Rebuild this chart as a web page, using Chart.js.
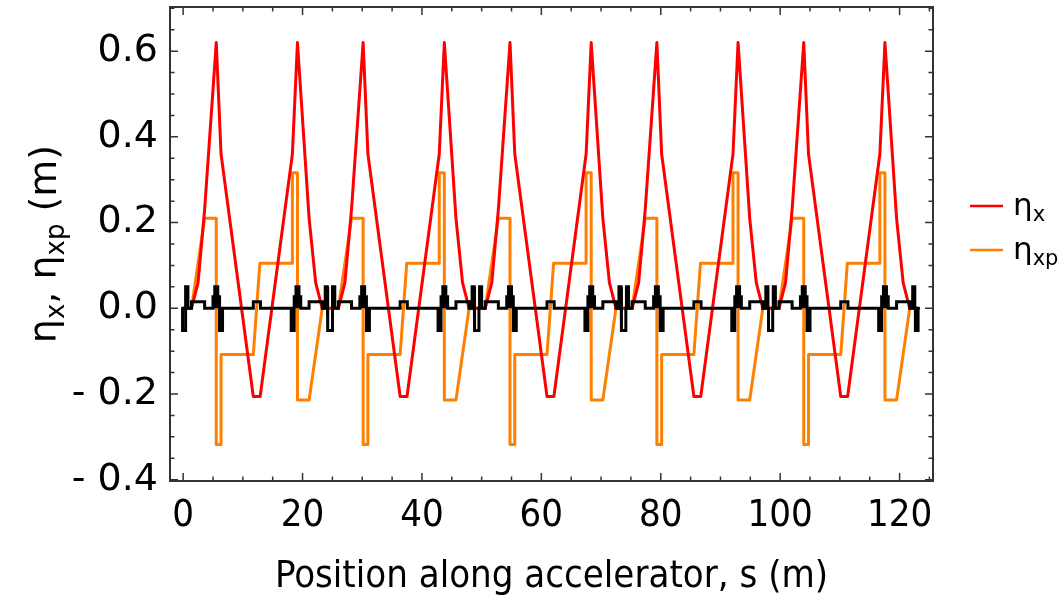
<!DOCTYPE html>
<html>
<head>
<meta charset="utf-8">
<title>Dispersion</title>
<script src="https://cdn.jsdelivr.net/npm/chart.js@4.4.1/dist/chart.umd.min.js"></script>
<style>
  html, body { margin: 0; padding: 0; background: #fff; }
</style>
</head>
<body>
<canvas id="dispersionChart" width="1064" height="600"></canvas>
<script>
// --- DATA ---

// eta_x : position s (m) and value (m)
const etaXS = [0, 1.4, 2.5, 3.6, 5.55, 6.35, 11.75, 12.9, 18.3, 19.15, 21.1, 22.2, 23.3,
    26.0, 27.1, 28.2, 30.15, 30.95, 36.35, 37.5, 42.9, 43.75, 45.7, 46.8, 47.9,
    50.6, 51.7, 52.8, 54.75, 55.55, 60.95, 62.1, 67.5, 68.35, 70.3, 71.4, 72.5,
    75.2, 76.3, 77.4, 79.35, 80.15, 85.55, 86.7, 92.1, 92.95, 94.9, 96.0, 97.1,
    99.8, 100.9, 102.0, 103.95, 104.75, 110.15, 111.3, 116.7, 117.55, 119.5, 120.6, 121.7, 123.0];
const etaXV = [0, 0, 0.06, 0.23, 0.62, 0.36, -0.206, -0.206, 0.36, 0.62, 0.21, 0.06, 0,
    0, 0.06, 0.23, 0.62, 0.36, -0.206, -0.206, 0.36, 0.62, 0.21, 0.06, 0,
    0, 0.06, 0.23, 0.62, 0.36, -0.206, -0.206, 0.36, 0.62, 0.21, 0.06, 0,
    0, 0.06, 0.23, 0.62, 0.36, -0.206, -0.206, 0.36, 0.62, 0.21, 0.06, 0,
    0, 0.06, 0.23, 0.62, 0.36, -0.206, -0.206, 0.36, 0.62, 0.21, 0.06, 0, 0];

// eta_xp : position s (m) and value
const etaXpS = [0, 1.4, 3.6, 5.55, 5.55, 6.35, 6.35, 11.75, 12.85, 18.3, 18.3, 19.15, 19.15, 21.1, 23.3,
    26.0, 28.2, 30.15, 30.15, 30.95, 30.95, 36.35, 37.45, 42.9, 42.9, 43.75, 43.75, 45.7, 47.9,
    50.6, 52.8, 54.75, 54.75, 55.55, 55.55, 60.95, 62.05, 67.5, 67.5, 68.35, 68.35, 70.3, 72.5,
    75.2, 77.4, 79.35, 79.35, 80.15, 80.15, 85.55, 86.65, 92.1, 92.1, 92.95, 92.95, 94.9, 97.1,
    99.8, 102.0, 103.95, 103.95, 104.75, 104.75, 110.15, 111.25, 116.7, 116.7, 117.55, 117.55, 119.5, 121.7, 123.0];
const etaXpV = [0, 0, 0.21, 0.21, -0.318, -0.318, -0.108, -0.108, 0.105, 0.105, 0.316, 0.316, -0.214, -0.214, 0,
    0, 0.21, 0.21, -0.318, -0.318, -0.108, -0.108, 0.105, 0.105, 0.316, 0.316, -0.214, -0.214, 0,
    0, 0.21, 0.21, -0.318, -0.318, -0.108, -0.108, 0.105, 0.105, 0.316, 0.316, -0.214, -0.214, 0,
    0, 0.21, 0.21, -0.318, -0.318, -0.108, -0.108, 0.105, 0.105, 0.316, 0.316, -0.214, -0.214, 0,
    0, 0.21, 0.21, -0.318, -0.318, -0.108, -0.108, 0.105, 0.105, 0.316, 0.316, -0.214, -0.214, 0, 0];

// lattice elements (black layout along the beamline): start, end, height
const latStart = [-0.1,
    0.45, 1.4, 5.0, 5.3, 5.8, 6.1, 11.75, 18.1, 18.6, 18.9, 19.4, 21.1, 23.8, 24.25,
    25.05, 26.0, 29.6, 29.9, 30.4, 30.7, 36.35, 42.7, 43.2, 43.5, 44.0, 45.7, 48.4, 48.85,
    49.65, 50.6, 54.2, 54.5, 55.0, 55.3, 60.95, 67.3, 67.8, 68.1, 68.6, 70.3, 73.0, 73.45,
    74.25, 75.2, 78.8, 79.1, 79.6, 79.9, 85.55, 91.9, 92.4, 92.7, 93.2, 94.9, 97.6, 98.05,
    98.85, 99.8, 103.4, 103.7, 104.2, 104.5, 110.15, 116.5, 117.0, 117.3, 117.8, 119.5, 122.2, 122.65];
const latEnd = [0.35,
    0.8, 3.6, 5.3, 5.8, 6.1, 6.6, 12.95, 18.6, 18.9, 19.4, 19.7, 23.3, 24.15, 24.95,
    25.4, 28.2, 29.9, 30.4, 30.7, 31.2, 37.55, 43.2, 43.5, 44.0, 44.3, 47.9, 48.75, 49.55,
    50.0, 52.8, 54.5, 55.0, 55.3, 55.8, 62.15, 67.8, 68.1, 68.6, 68.9, 72.5, 73.35, 74.15,
    74.6, 77.4, 79.1, 79.6, 79.9, 80.4, 86.75, 92.4, 92.7, 93.2, 93.5, 97.1, 97.95, 98.75,
    99.2, 102.0, 103.7, 104.2, 104.5, 105.0, 111.35, 117.0, 117.3, 117.8, 118.1, 121.7, 122.55, 123.1];
const latH = [-0.052,
    0.05, 0.015, 0.027, 0.05, 0.027, -0.052, 0.015, -0.052, 0.027, 0.05, 0.027, 0.015, 0.05, -0.052,
    0.05, 0.015, 0.027, 0.05, 0.027, -0.052, 0.015, -0.052, 0.027, 0.05, 0.027, 0.015, 0.05, -0.052,
    0.05, 0.015, 0.027, 0.05, 0.027, -0.052, 0.015, -0.052, 0.027, 0.05, 0.027, 0.015, 0.05, -0.052,
    0.05, 0.015, 0.027, 0.05, 0.027, -0.052, 0.015, -0.052, 0.027, 0.05, 0.027, 0.015, 0.05, -0.052,
    0.05, 0.015, 0.027, 0.05, 0.027, -0.052, 0.015, -0.052, 0.027, 0.05, 0.027, 0.015, 0.05, -0.052];
const latFrom = -0.3;
const latTo = 123.4;

// axes
const xTickVals = [0, 20, 40, 60, 80, 100, 120];
const yTickVals = [-0.4, -0.2, 0, 0.2, 0.4, 0.6];
const yTickLabels = ['- 0.4', '- 0.2', '0.0', '0.2', '0.4', '0.6'];
const xTitle = 'Position along accelerator, s (m)';

const FONT = "'DejaVu Sans', sans-serif";
const FONT_NARROW = "'DejaVu Sans Condensed', 'Liberation Sans Narrow', 'DejaVu Sans', sans-serif";

function toPoints(sArr, vArr) {
    return sArr.map((s, i) => ({ x: s, y: vArr[i] }));
}

// black outline: baseline with a box for every element
function latticePoints() {
    const pts = [{ x: latFrom, y: 0 }];
    latStart.forEach((a, i) => {
        const b = latEnd[i];
        const h = latH[i];
        pts.push({ x: a, y: 0 }, { x: a, y: h }, { x: b, y: h }, { x: b, y: 0 });
    });
    pts.push({ x: latTo, y: 0 });
    return pts;
}

// text with subscripts, parts = [[text, isSub], ...]
function drawSubText(ctx, parts, x, y, size, align) {
    const subSize = Math.round(size * 0.68);
    const widthOf = p => {
        ctx.font = (p[1] ? subSize : size) + 'px ' + FONT;
        return ctx.measureText(p[0]).width;
    };
    const total = parts.reduce((w, p) => w + widthOf(p), 0);
    let cx = align === 'center' ? x - total / 2 : x;
    ctx.textAlign = 'left';
    ctx.textBaseline = 'alphabetic';
    parts.forEach(p => {
        const w = widthOf(p);
        ctx.fillText(p[0], cx, p[1] ? y + size * 0.2 : y);
        cx += w;
    });
}

// --- FRAME, TICKS, AXIS TITLE, LEGEND ---
const framePlugin = {
    id: 'frame',
    afterDraw(chart) {
        const { ctx, chartArea: a, scales: { x, y } } = chart;
        ctx.save();
        ctx.strokeStyle = '#333';
        ctx.lineWidth = 2;
        ctx.strokeRect(a.left, a.top, a.right - a.left, a.bottom - a.top);

        ctx.lineWidth = 1.5;
        ctx.beginPath();
        for (let v = 0; v <= 125; v += 5) {
            const px = x.getPixelForValue(v);
            const len = v % 20 === 0 ? 8 : 4.5;
            ctx.moveTo(px, a.bottom); ctx.lineTo(px, a.bottom - len);
            ctx.moveTo(px, a.top); ctx.lineTo(px, a.top + len);
        }
        for (let k = -8; k <= 14; k++) {
            const py = y.getPixelForValue(k * 0.05);
            const len = k % 4 === 0 ? 8 : 4.5;
            ctx.moveTo(a.left, py); ctx.lineTo(a.left + len, py);
            ctx.moveTo(a.right, py); ctx.lineTo(a.right - len, py);
        }
        ctx.stroke();

        // y axis title
        ctx.fillStyle = '#000';
        ctx.save();
        ctx.translate(56, (a.top + a.bottom) / 2);
        ctx.rotate(-Math.PI / 2);
        drawSubText(ctx, [['η', false], ['x', true], [', ', false], ['η', false], ['xp', true], [' (m)', false]], 0, 0, 38, 'center');
        ctx.restore();

        // legend
        const rows = [['x', '#ff0000', 206], ['xp', '#ff8000', 250]];
        rows.forEach(r => {
            ctx.strokeStyle = r[1];
            ctx.lineWidth = 2.5;
            ctx.beginPath();
            ctx.moveTo(970, r[2]);
            ctx.lineTo(1003, r[2]);
            ctx.stroke();
            drawSubText(ctx, [['η', false], [r[0], true]], 1013, r[2] + 9, 31, 'left');
        });
        ctx.restore();
    }
};

// --- CHART ---
const ctx = document.getElementById('dispersionChart').getContext('2d');
new Chart(ctx, {
    type: 'line',
    data: {
        datasets: [
            {
                label: 'lattice',
                data: latticePoints(),
                borderColor: '#000',
                borderWidth: 3,
                borderJoinStyle: 'miter',
                order: 0
            },
            {
                label: 'ηx',
                data: toPoints(etaXS, etaXV),
                borderColor: '#ff0000',
                borderWidth: 3,
                borderJoinStyle: 'round',
                order: 1
            },
            {
                label: 'ηxp',
                data: toPoints(etaXpS, etaXpV),
                borderColor: '#ff8000',
                borderWidth: 3,
                borderJoinStyle: 'round',
                order: 2
            }
        ]
    },
    options: {
        responsive: false,
        animation: false,
        elements: { point: { radius: 0 }, line: { tension: 0, fill: false } },
        layout: { padding: { left: 0, right: 131, top: 7, bottom: 0 } },
        plugins: { legend: { display: false }, tooltip: { enabled: false } },
        scales: {
            x: {
                type: 'linear',
                min: -2.2,
                max: 125.6,
                grid: { display: false, drawTicks: false },
                border: { display: false },
                afterBuildTicks: ax => { ax.ticks = xTickVals.map(v => ({ value: v })); },
                afterFit: ax => { ax.height = 119; ax.paddingLeft = 0; ax.paddingRight = 0; },
                ticks: {
                    color: '#000',
                    font: { family: FONT_NARROW, size: 38 },
                    padding: 12,
                    maxRotation: 0,
                    autoSkip: false
                },
                title: {
                    display: true,
                    text: xTitle,
                    color: '#000',
                    font: { family: FONT_NARROW, size: 38 },
                    padding: { top: 0, bottom: 0 }
                }
            },
            y: {
                type: 'linear',
                min: -0.403,
                max: 0.703,
                grid: { display: false, drawTicks: false },
                border: { display: false },
                afterBuildTicks: ax => { ax.ticks = yTickVals.map(v => ({ value: v })); },
                afterFit: ax => { ax.width = 170; ax.paddingTop = 0; ax.paddingBottom = 0; },
                ticks: {
                    color: '#000',
                    font: { family: FONT, size: 38 },
                    padding: 12,
                    callback: (v, i) => yTickLabels[i]
                }
            }
        }
    },
    plugins: [framePlugin]
});
</script>
</body>
</html>
